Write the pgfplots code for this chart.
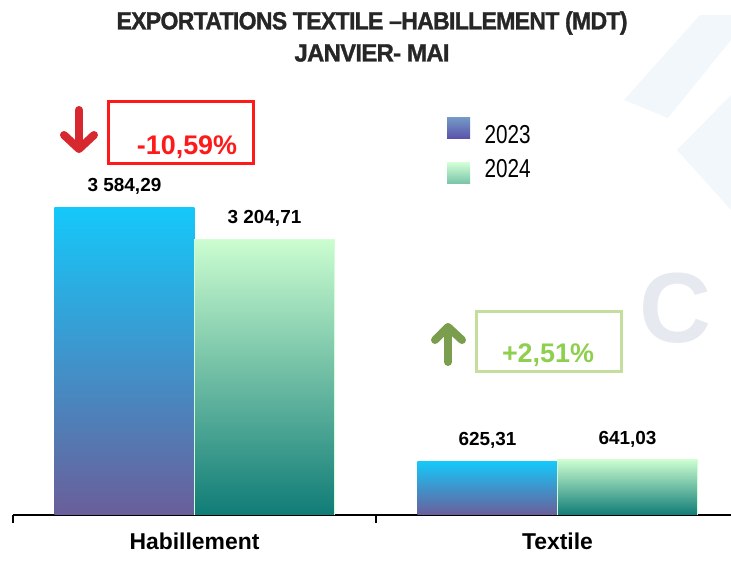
\documentclass[border=0pt]{standalone}
\usepackage{pgfplots}
\pgfplotsset{compat=1.18}
\usepackage{fontspec}
\setmainfont{Liberation Sans}
\newfontfamily\titlefont{Liberation Sans}[BoldFeatures={FakeBold=1.3, LetterSpace=-3}]
\usepackage{graphicx}

\definecolor{topA}{HTML}{15C8FA}
\definecolor{botA}{HTML}{6A5E9A}
\definecolor{topB}{HTML}{CBFDD0}
\definecolor{botB}{HTML}{107C77}
\definecolor{redx}{HTML}{FF1A1A}
\definecolor{redarrow}{HTML}{D7282F}
\definecolor{greenbox}{HTML}{C4DE9E}
\definecolor{greentxt}{HTML}{8ECF50}
\definecolor{greenarrow}{HTML}{7A9E4E}
\definecolor{titlegray}{HTML}{262626}
\definecolor{wmark}{HTML}{F1F7FA}
\definecolor{wmarkC}{HTML}{E6E9F0}

\begin{document}
\begin{tikzpicture}
% picture is 731 x 562; axis box starts at pixel (13, 515)
\useasboundingbox (-13bp,-47bp) rectangle (718bp,515bp);

% faint watermark behind the chart
\begin{scope}[x=1bp, y=-1bp, shift={(-13bp,515bp)}]
  \fill[wmark] (624,100) -- (700,15) -- (731,15) -- (731,40) -- (668,118) -- cycle;
  \fill[wmark] (677,150) -- (731,95) -- (731,210) -- cycle;
  \node[wmarkC, font=\bfseries\fontsize{100}{100}\selectfont, anchor=west] at (636,308) {C};
\end{scope}

\begin{axis}[
    scale only axis,
    width=718bp, height=515bp,
    at={(0,0)}, anchor=south west,
    xmin=-0.5, xmax=1.478,
    ymin=0, ymax=5995,
    axis y line=none,
    axis x line*=bottom,
    axis line style={black, line width=1.2pt},
    xtick={0,1},
    xticklabels={Habillement, Textile},
    major tick length=0pt,
    xticklabel style={font=\bfseries\fontsize{23}{23}\selectfont, yshift=-14bp},
    extra x ticks={-0.5,0.5},
    extra x tick labels={},
    extra x tick style={major tick length=8bp, tick style={black, line width=1.2pt}, tick pos=bottom, tick align=outside},
    bar width=0.386,
    nodes near coords,
    point meta=explicit symbolic,
    every node near coord/.append style={font=\bfseries\fontsize{19}{19}\selectfont, anchor=center, yshift=21bp},
    a23/.style={ybar, bar shift=-0.193, draw=none, top color=topA, bottom color=botA,
      every node near coord/.append style={xshift=-70bp}},
    a24/.style={ybar, bar shift=0.193, draw=topB!85!white, line width=0.6pt, top color=topB, bottom color=botB,
      every node near coord/.append style={xshift=70bp}},
]
% 2023
\addplot[a23] coordinates {(0,3584.29) [{3 584,29}]};
\addplot[a23] coordinates {(1,625.31) [{625,31}]};
% 2024
\addplot[a24] coordinates {(0,3204.71) [{3 204,71}]};
\addplot[a24] coordinates {(1,641.03) [{641,03}]};
\end{axis}

\begin{scope}[x=1bp, y=-1bp, shift={(-13bp,515bp)}]
  % title
  \node[titlegray, font=\titlefont\bfseries\fontsize{25}{25}\selectfont] at (372,23)
    {\resizebox{511bp}{\height}{EXPORTATIONS TEXTILE –HABILLEMENT (MDT)}};
  \node[titlegray, font=\titlefont\bfseries\fontsize{25}{25}\selectfont] at (372,53)
    {\resizebox{155bp}{\height}{JANVIER- MAI}};

  % legend
  \shade[top color=topA!30!botA!80!white, bottom color=botA!85!blue] (447,118) rectangle (470,139);
  \shade[top color=topB!90!white, bottom color=botB!45!topB] (447,163) rectangle (470,184);
  \node[anchor=west, font=\fontsize{26}{26}\selectfont] at (481,135) {\scalebox{0.8}[1]{2023}};
  \node[anchor=west, font=\fontsize{26}{26}\selectfont] at (481,169) {\scalebox{0.8}[1]{2024}};

  % Habillement change
  \draw[redarrow, line width=8bp, line cap=round, line join=round] (79,110) -- (79,147);
  \draw[redarrow, line width=8bp, line cap=round, line join=round] (64,135) -- (79,149) -- (94,135);
  \draw[redx, line width=3bp] (109,102) rectangle (253,164);
  \node[redx, font=\bfseries\fontsize{27}{27}\selectfont] at (187,147) {-10,59\%};

  % Textile change
  \draw[greenarrow, line width=8bp, line cap=round, line join=round] (448,328) -- (448,362);
  \draw[greenarrow, line width=8bp, line cap=round, line join=round] (435,340) -- (448,327) -- (462,340);
  \draw[greenbox, line width=3bp] (476,312) rectangle (621,372);
  \node[greentxt, font=\bfseries\fontsize{27}{27}\selectfont] at (548,355) {+2,51\%};
\end{scope}
\end{tikzpicture}
\end{document}
